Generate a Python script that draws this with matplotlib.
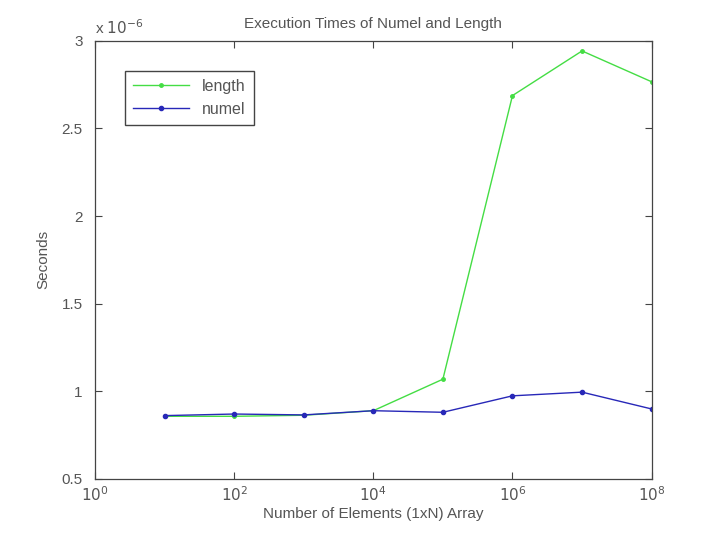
import matplotlib
matplotlib.use("Agg")
import matplotlib.pyplot as plt
from matplotlib.ticker import FixedLocator, NullLocator, FixedFormatter

# data (seconds, x 1e-6)
n_elements = [1e1, 1e2, 1e3, 1e4, 1e5, 1e6, 1e7, 1e8]
length_t = [0.856, 0.856, 0.862, 0.888, 1.068, 2.688, 2.943, 2.767]
numel_t = [0.860, 0.869, 0.864, 0.888, 0.879, 0.973, 0.994, 0.898]
scale = 1e-6

xticks = [1e0, 1e2, 1e4, 1e6, 1e8]
xticklabels = ['$10^0$', '$10^2$', '$10^4$', '$10^6$', '$10^8$']
yticks = [0.5, 1, 1.5, 2, 2.5, 3]
yticklabels = ['0.5', '1', '1.5', '2', '2.5', '3']

plt.rcParams['font.family'] = ['Liberation Sans', 'DejaVu Sans']
txt = '#555555'

fig = plt.figure(figsize=(7.2, 5.39), dpi=100)
ax = fig.add_axes([0.132, 0.112, 0.773, 0.812])

ax.plot(n_elements, [v * scale for v in length_t], color='#44dd44', lw=1,
        marker='.', ms=5, label='length')
ax.plot(n_elements, [v * scale for v in numel_t], color='#2828b8', lw=1,
        marker='.', ms=6, label='numel')

ax.set_xscale('log')
ax.set_xlim(1e0, 1e8)
ax.set_ylim(0.5e-6, 3e-6)
ax.xaxis.set_major_locator(FixedLocator(xticks))
ax.xaxis.set_major_formatter(FixedFormatter(xticklabels))
ax.xaxis.set_minor_locator(NullLocator())
ax.set_yticks([v * scale for v in yticks])
ax.set_yticklabels(yticklabels)

ax.tick_params(direction='in', top=True, right=True, length=5,
               labelsize=11, colors='#444444', labelcolor=txt)
ax.tick_params(axis='y', pad=9)
ax.tick_params(axis='x', pad=5)
for s in ax.spines.values():
    s.set_color('#444444')
    s.set_linewidth(0.9)

ax.text(0.0, 1.01, r'x $10^{-6}$', transform=ax.transAxes, fontsize=11,
        color=txt, ha='left', va='bottom')
ax.set_title('Execution Times of Numel and Length', fontsize=11, color=txt, pad=9)
ax.set_xlabel('Number of Elements (1xN) Array', fontsize=11, color=txt, labelpad=2)
ax.set_ylabel('Seconds', fontsize=11, color=txt, labelpad=8)

leg = ax.legend(loc='upper left', bbox_to_anchor=(0.04, 0.95), fontsize=11.5,
                fancybox=False, framealpha=1, edgecolor='#444444',
                handlelength=3.5, borderpad=0.5, labelspacing=0.5)
for t in leg.get_texts():
    t.set_color(txt)

fig.savefig('out.png', dpi=100)
